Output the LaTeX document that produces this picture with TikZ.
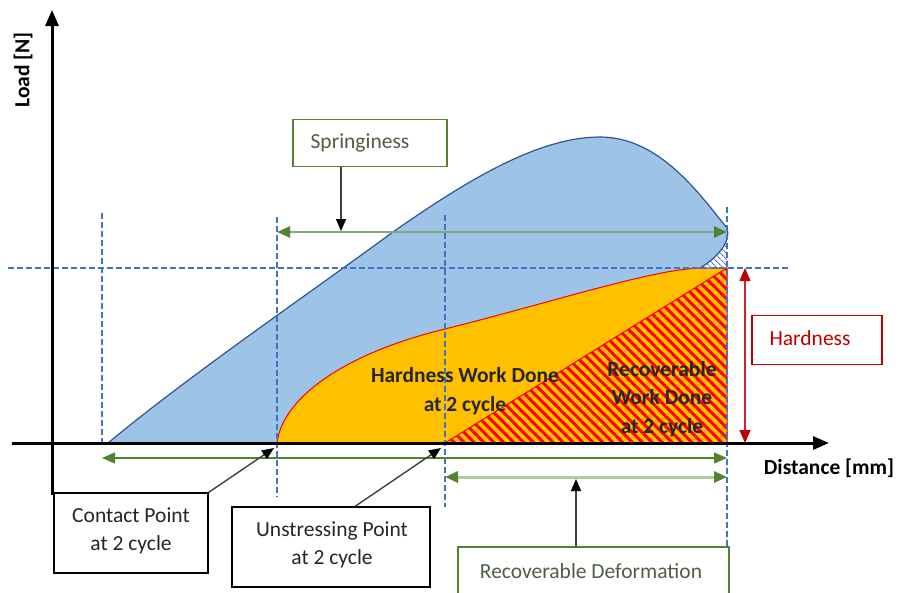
\documentclass[tikz,border=0pt]{standalone}
\usepackage{fontspec}
\setmainfont{Carlito}
\usetikzlibrary{arrows.meta,patterns.meta}
\definecolor{bluefill}{HTML}{9DC3E6}
\definecolor{blueline}{HTML}{2F5597}
\definecolor{dashblue}{HTML}{4472C4}
\definecolor{orangefill}{HTML}{FFC000}
\definecolor{grn}{HTML}{548235}
\definecolor{lgrn}{HTML}{B0CCA0}
\definecolor{mgrn}{HTML}{86A878}
\definecolor{dred}{HTML}{C00000}
\definecolor{txtgrn}{HTML}{505E45}
\begin{document}
\begin{tikzpicture}[x=1pt,y=-1pt,
  every node/.style={font=\fontsize{21.5}{28.5}\selectfont},
  guide/.style={dashblue, line width=1.3pt, dash pattern=on 6pt off 3pt},
  axisline/.style={line width=3pt, -{Triangle[length=16pt,width=13pt]}},
  dimarrow/.style={line width=1.4pt, {Triangle[length=13pt,width=11pt,color=grn]}-{Triangle[length=13pt,width=11pt,color=grn]}},
  pointer/.style={draw=black!75, line width=1.4pt, -{Triangle[length=12pt,width=10pt,color=black]}},
  boxnode/.style={draw, line width=1.2pt, fill=white, inner sep=0pt},
  worktext/.style={font=\bfseries\fontsize{21.5}{28.5}\selectfont, align=center, text=black!85}
]
\useasboundingbox (0,0) rectangle (901,592);

% blue loading curve area
\fill[bluefill] (108,443) .. controls (190,375) and (300,300) .. (393,232)
  .. controls (470,178) and (540,137) .. (600,137)
  .. controls (660,137) and (700,195) .. (727,228)
  .. controls (731,240) and (720,256) .. (700,268) -- (700,443) -- cycle;
% small blue hatch at the tip
\path[pattern={Lines[angle=-45,distance=4pt,line width=1pt]}, pattern color=dashblue]
  (700,268) .. controls (720,256) and (731,240) .. (727,228) -- (727,268) -- cycle;

% orange hardness work area
\fill[orangefill] (277,443) .. controls (283,395) and (350,352) .. (445,329)
  .. controls (560,300) and (650,270) .. (700,268) -- (727,268) -- (727,443) -- cycle;
% hatched recoverable work
\path[pattern={Lines[angle=-45,distance=7pt,line width=3pt]}, pattern color=red]
  (445,443) -- (727,268) -- (727,443) -- cycle;
\draw[red, line width=1pt] (445,443) -- (727,268);
\draw[red, line width=1pt] (277,443) .. controls (283,395) and (350,352) .. (445,329)
  .. controls (560,300) and (650,270) .. (700,268) -- (727,268) -- (727,443);

% blue outline
\draw[blueline, line width=1.2pt] (108,443) .. controls (190,375) and (300,300) .. (393,232)
  .. controls (470,178) and (540,137) .. (600,137)
  .. controls (660,137) and (700,195) .. (727,228)
  .. controls (731,240) and (720,256) .. (700,268);

% guide lines
\draw[guide] (102,213) -- (102,447);
\draw[guide] (277,217) -- (277,497);
\draw[guide] (445,215) -- (445,507);
\draw[guide] (727,207) -- (727,547);
\draw[guide] (8,268) -- (790,268);

% coordinates
\coordinate (yb) at (52,495);
\coordinate (yt) at (52,10);
\coordinate (xl) at (12,443);
\coordinate (xr) at (829,443);
\coordinate (sprL) at (277,232);
\coordinate (sprR) at (727,232);
\coordinate (totL) at (102,458);
\coordinate (totR) at (727,458);
\coordinate (recL) at (445,477);
\coordinate (recR) at (727,477);
\coordinate (hT) at (745,268);
\coordinate (hB) at (745,443);
\coordinate (cpt) at (274,448);
\coordinate (upt) at (441,448);
\coordinate (sprtip) at (341,231);
\coordinate (rectip) at (576,479);

% dimension arrows
\draw[dimarrow, draw=mgrn, line width=2.5pt] (sprL) -- (sprR);
\draw[dimarrow, draw=grn] (totL) -- (totR);
\draw[dimarrow, draw=lgrn, line width=3pt] (recL) -- (recR);
\draw[dred!85, line width=1.5pt, {Triangle[length=13pt,width=11pt,color=dred]}-{Triangle[length=13pt,width=11pt,color=dred]}] (hT) -- (hB);

% axes
\draw[axisline] (yb) -- (yt);
\draw[axisline] (xl) -- (xr);
\node[font=\bfseries\fontsize{21.5}{28.5}\selectfont, rotate=90] (ylab) at (23,70) {Load [N]};
\node[font=\bfseries\fontsize{21.5}{28.5}\selectfont] (xlab) at (829,468) {Distance [mm]};

% boxes
\node[boxnode, draw=grn, minimum width=154pt, minimum height=47pt] (sprbox) at (370,143) {};
\node[text=txtgrn] (sprtxt) at (360,143) {Springiness};
\node[boxnode, draw=dred, minimum width=130pt, minimum height=49pt] (hbox) at (817,340) {};
\node[text=dred] (htxt) at (810,338) {Hardness};
\node[boxnode, draw=black, minimum width=154pt, minimum height=80pt] (cbox) at (131,533) {};
\node[align=center, text=black!85] (ctxt) at (131,531) {Contact Point\\at 2 cycle};
\node[boxnode, draw=black, minimum width=198pt, minimum height=80pt] (ubox) at (331,547) {};
\node[align=center, text=black!85] (utxt) at (332,545) {Unstressing Point\\at 2 cycle};
\node[boxnode, draw=grn, minimum width=271pt, minimum height=56pt] (rbox) at (593.5,575) {};
\node[text=txtgrn] (rtxt) at (591,571) {Recoverable Deformation};

% pointers
\draw[pointer] ([xshift=-29pt]sprbox.south) -- (sprtip);
\draw[pointer] ([xshift=-17.5pt]rbox.north) -- (rectip);
\draw[pointer] (cbox.north east) -- (cpt);
\draw[pointer] ([xshift=24pt]ubox.north) -- (upt);

% work labels
\node[worktext] (hwork) at (465,391) {Hardness Work Done\\at 2 cycle};
\node[worktext] (rwork) at (662,399) {Recoverable\\Work Done\\at 2 cycle};
\end{tikzpicture}
\end{document}
